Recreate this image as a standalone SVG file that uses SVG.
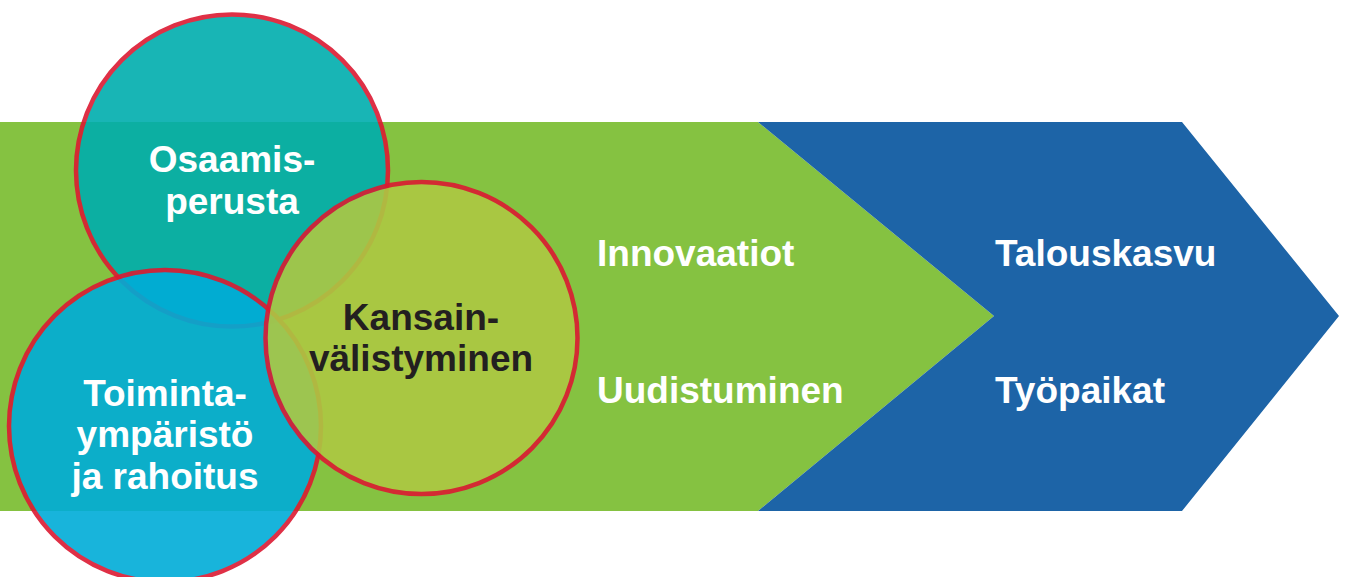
<svg xmlns="http://www.w3.org/2000/svg" width="1345" height="577" viewBox="0 0 1345 577">
<style>
.lbl{font-family:"Liberation Sans",Arial,sans-serif;font-weight:bold;font-size:37px;fill:#ffffff}
.ctr{text-anchor:middle}
.dark{fill:#231f20}
.ring{stroke:#dc1a32;stroke-width:4.5}
</style>
<rect width="1345" height="577" fill="#ffffff"/>
<g id="band">
<polygon points="0,122 758,122 994,316 758,511 0,511" fill="#85c241"/>
<polygon points="758,122 1182,122 1339,316 1182,511 758,511 994,316" fill="#1d64a7"/>
</g>
<g id="osaamisperusta" opacity="0.9">
<circle cx="232" cy="170.5" r="156" fill="#00aead" class="ring"/>
</g>
<g id="toimintaymparisto" opacity="0.9">
<circle cx="165" cy="426" r="156" fill="#00acd8" class="ring"/>
</g>
<g id="kansainvalistyminen" opacity="0.9">
<circle cx="421.5" cy="338" r="156" fill="#adc843" class="ring"/>
</g>
<g id="labels">
<text class="lbl ctr" x="232" y="172">Osaamis-</text>
<text class="lbl ctr" x="232" y="214">perusta</text>
<text class="lbl ctr" x="165" y="406">Toiminta-</text>
<text class="lbl ctr" x="165" y="447">ympäristö</text>
<text class="lbl ctr" x="165" y="489">ja rahoitus</text>
<text class="lbl ctr dark" x="421" y="330">Kansain-</text>
<text class="lbl ctr dark" x="421" y="371">välistyminen</text>
</g>
<g id="innovaatiot"><text class="lbl" x="597" y="266">Innovaatiot</text></g>
<g id="uudistuminen"><text class="lbl" x="597" y="403">Uudistuminen</text></g>
<g id="talouskasvu"><text class="lbl" x="995" y="266">Talouskasvu</text></g>
<g id="tyopaikat"><text class="lbl" x="995" y="403">Työpaikat</text></g>
</svg>
